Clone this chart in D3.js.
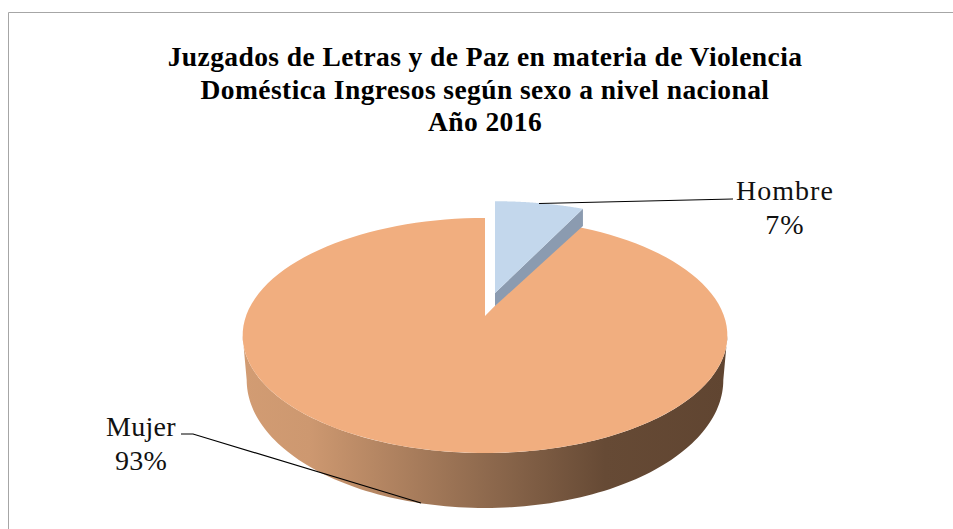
<!DOCTYPE html>
<html><head><meta charset="utf-8">
<script src="https://cdnjs.cloudflare.com/ajax/libs/d3/7.8.5/d3.min.js"></script>
<style>html,body{margin:0;padding:0;background:#fff}svg{display:block}</style>
</head><body><svg id="c" width="953" height="529"></svg>
<script>
const categories = ["Hombre", "Mujer"];
const values = [7, 93];
const valueLabels = ["7%", "93%"];
const titleLines = ["Juzgados de Letras y de Paz en materia de Violencia",
  "Doméstica Ingresos según sexo a nivel nacional", "Año 2016"];

const svg = d3.select("#c");
const serif = "'Liberation Serif','DejaVu Serif',serif";
const pie = d3.pie().sort(null).value(d => d)(values);
const tilt = 0.166;

// perspective projection of a disc onto the page
const disc = (cx, cy, c, b) => a => {
  const u = Math.sin(a), v = -Math.cos(a), w = 1 - tilt * v;
  return [cx + c * u / w, cy + b * v / w];
};
const rim = (proj, a0, a1) => d3.range(0, 121).map(i => proj(a0 + (a1 - a0) * i / 120));
const line = d3.line();

const orangeTop = disc(485, 316, 239, 114.3);
const orangeBot = disc(485, 358.7, 235, 124.5);
const blueTop = disc(495, 293, 237.6, 107);
const blueBot = disc(495, 306, 237.6, 101.7);

const defs = svg.append("defs");
const g = defs.append("linearGradient").attr("id", "side")
  .attr("gradientUnits", "userSpaceOnUse").attr("x1", 242).attr("x2", 726).attr("y1", 0).attr("y2", 0);
[[0, "#d29c73"], [0.14, "#cd9870"], [0.5, "#8f6a4e"], [0.75, "#664a35"], [1, "#604531"]]
  .forEach(s => g.append("stop").attr("offset", s[0]).attr("stop-color", s[1]));

// chart frame
svg.append("path").attr("d", "M8.5,529V12.5H953").attr("fill", "none").attr("stroke", "#a6a6a6").attr("stroke-width", 1);

// title
svg.append("g").selectAll("text").data(titleLines).join("text")
  .attr("x", 485).attr("y", (d, i) => 66 + i * 32.5)
  .attr("text-anchor", "middle").attr("font-family", serif).attr("font-weight", "bold")
  .attr("font-size", 27.5).attr("letter-spacing", 0.42).attr("fill", "#000").text(d => d);

// orange side wall (front half of the disc)
const aL = Math.PI * 2 - Math.acos(-tilt), aR = Math.acos(-tilt);
const frontTop = rim(orangeTop, aR, aL);
const frontBot = rim(orangeBot, aR, aL).reverse();
svg.append("path").attr("d", line(frontTop.concat(frontBot)) + "Z").attr("fill", "url(#side)");

// orange top face
const m = pie[1];
svg.append("path")
  .attr("d", line([[485, 316]].concat(rim(orangeTop, m.startAngle, m.endAngle))) + "Z")
  .attr("fill", "#f1ae7f");

// blue slice side and top face
const h = pie[0];
const pT = blueTop(h.endAngle), pB = blueBot(h.endAngle);
svg.append("path").attr("d", line([[495, 293], pT, pB, [495, 306]]) + "Z").attr("fill", "#8b9bb0");
svg.append("path").attr("d", line([[495, 293]].concat(rim(blueTop, h.startAngle, h.endAngle))) + "Z").attr("fill", "#c3d7ec");

// leader lines
svg.append("path").attr("d", "M539,203.5L733,199").attr("fill", "none").attr("stroke", "#000").attr("stroke-width", 1.2);
svg.append("path").attr("d", "M181,434H193L421,503").attr("fill", "none").attr("stroke", "#000").attr("stroke-width", 1.2);

// data labels
const labelPos = [[785, 200, 234], [141, 436, 470]];
const labelSpacing = [1, 0.3];
categories.forEach((c, i) => {
  const p = labelPos[i];
  [[c, p[1]], [valueLabels[i], p[2]]].forEach(t =>
    svg.append("text").attr("x", p[0]).attr("y", t[1]).attr("text-anchor", "middle")
      .attr("font-family", serif).attr("font-size", 28).attr("letter-spacing", labelSpacing[i])
      .attr("fill", "#111").text(t[0]));
});
</script></body></html>
